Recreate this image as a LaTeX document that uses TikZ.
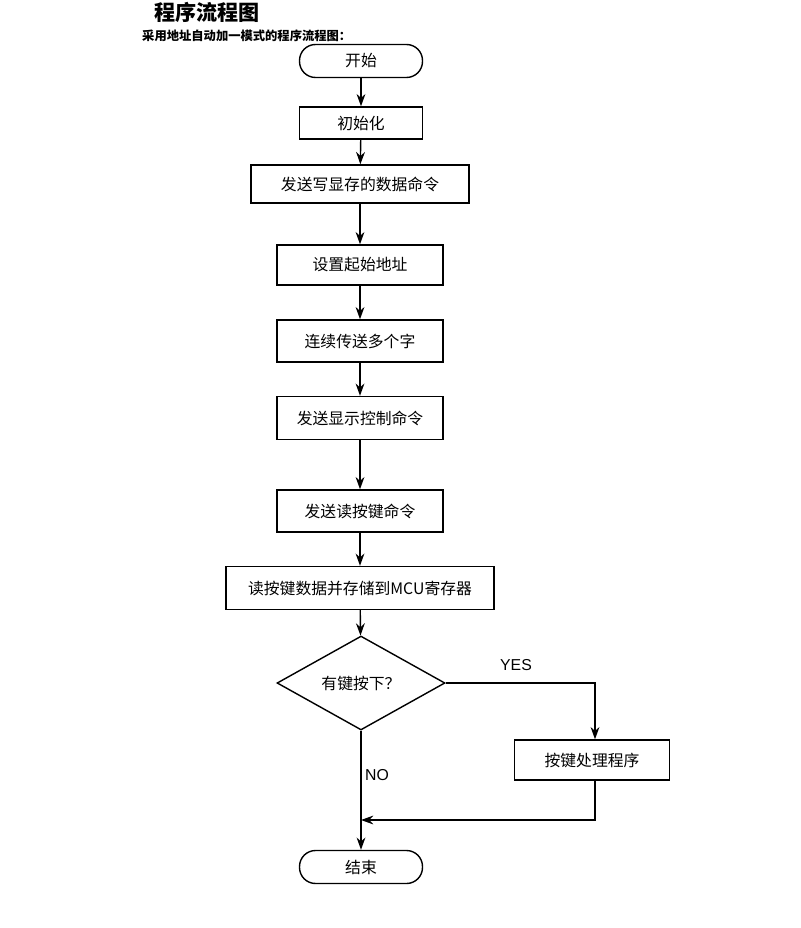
\documentclass[tikz,border=0pt]{standalone}
\usepackage{fontspec}
\setmainfont{Liberation Sans}
\newfontfamily\cjk{Noto Sans CJK SC}
\usetikzlibrary{shapes.geometric,arrows.meta}
\begin{document}
\begin{tikzpicture}[x=0.02cm,y=-0.02cm,
  box/.style={draw,thick,minimum height=0.8cm,font=\cjk\small},
  term/.style={draw,thick,rounded corners=0.32cm,minimum width=2.46cm,minimum height=0.66cm,font=\cjk\small},
  arr/.style={-{Stealth[length=7pt,width=5pt]},thick}]
\useasboundingbox (0,0) rectangle (800,928);
\node[font=\cjk\bfseries\large,anchor=west] (t) at (148,12) {程序流程图};
\node[font=\cjk\bfseries\scriptsize,anchor=west] (st) at (136,36) {采用地址自动加一模式的程序流程图：};
\node[term] (s) at (361,61) {开始};
\node[box,minimum width=2.46cm,minimum height=0.64cm] (a) at (361,123) {初始化};
\node[box,minimum width=4.36cm,minimum height=0.76cm] (b) at (360,184) {发送写显存的数据命令};
\node[box,minimum width=3.32cm] (c) at (360,265) {设置起始地址};
\node[box,minimum width=3.32cm,minimum height=0.84cm] (d) at (360,341) {连续传送多个字};
\node[box,minimum width=3.32cm,minimum height=0.86cm] (e) at (360,418) {发送显示控制命令};
\node[box,minimum width=3.32cm,minimum height=0.84cm] (f) at (360,511) {发送读按键命令};
\node[box,minimum width=5.36cm,minimum height=0.86cm] (g) at (360,588) {读按键数据并存储到MCU寄存器};
\node[draw,thick,diamond,minimum width=3.36cm,minimum height=1.88cm,inner sep=0pt,font=\cjk\small] (h) at (361,683) {有键按下？};
\node[box,minimum width=3.1cm] (k) at (592,760) {按键处理程序};
\node[term] (z) at (361,867) {结束};
\coordinate (yc) at (595,683);
\coordinate (kc) at (595,820);
\coordinate (jc) at (361,820);
\draw[arr] (s) -- (a);
\draw[arr] (a) -- (b);
\draw[arr] (b) -- (c);
\draw[arr] (c) -- (d);
\draw[arr] (d) -- (e);
\draw[arr] (e) -- (f);
\draw[arr] (f) -- (g);
\draw[arr] (g) -- (h);
\draw[arr] (h.east) -- (yc) -- (k.north -| yc);
\draw[arr] (k.south -| kc) -- (kc) -- (jc);
\draw[arr] (h.south) -- (z);
\node[font=\small] (yes) at (516,665) {YES};
\node[font=\small] (no) at (377,775) {NO};
\end{tikzpicture}
\end{document}
